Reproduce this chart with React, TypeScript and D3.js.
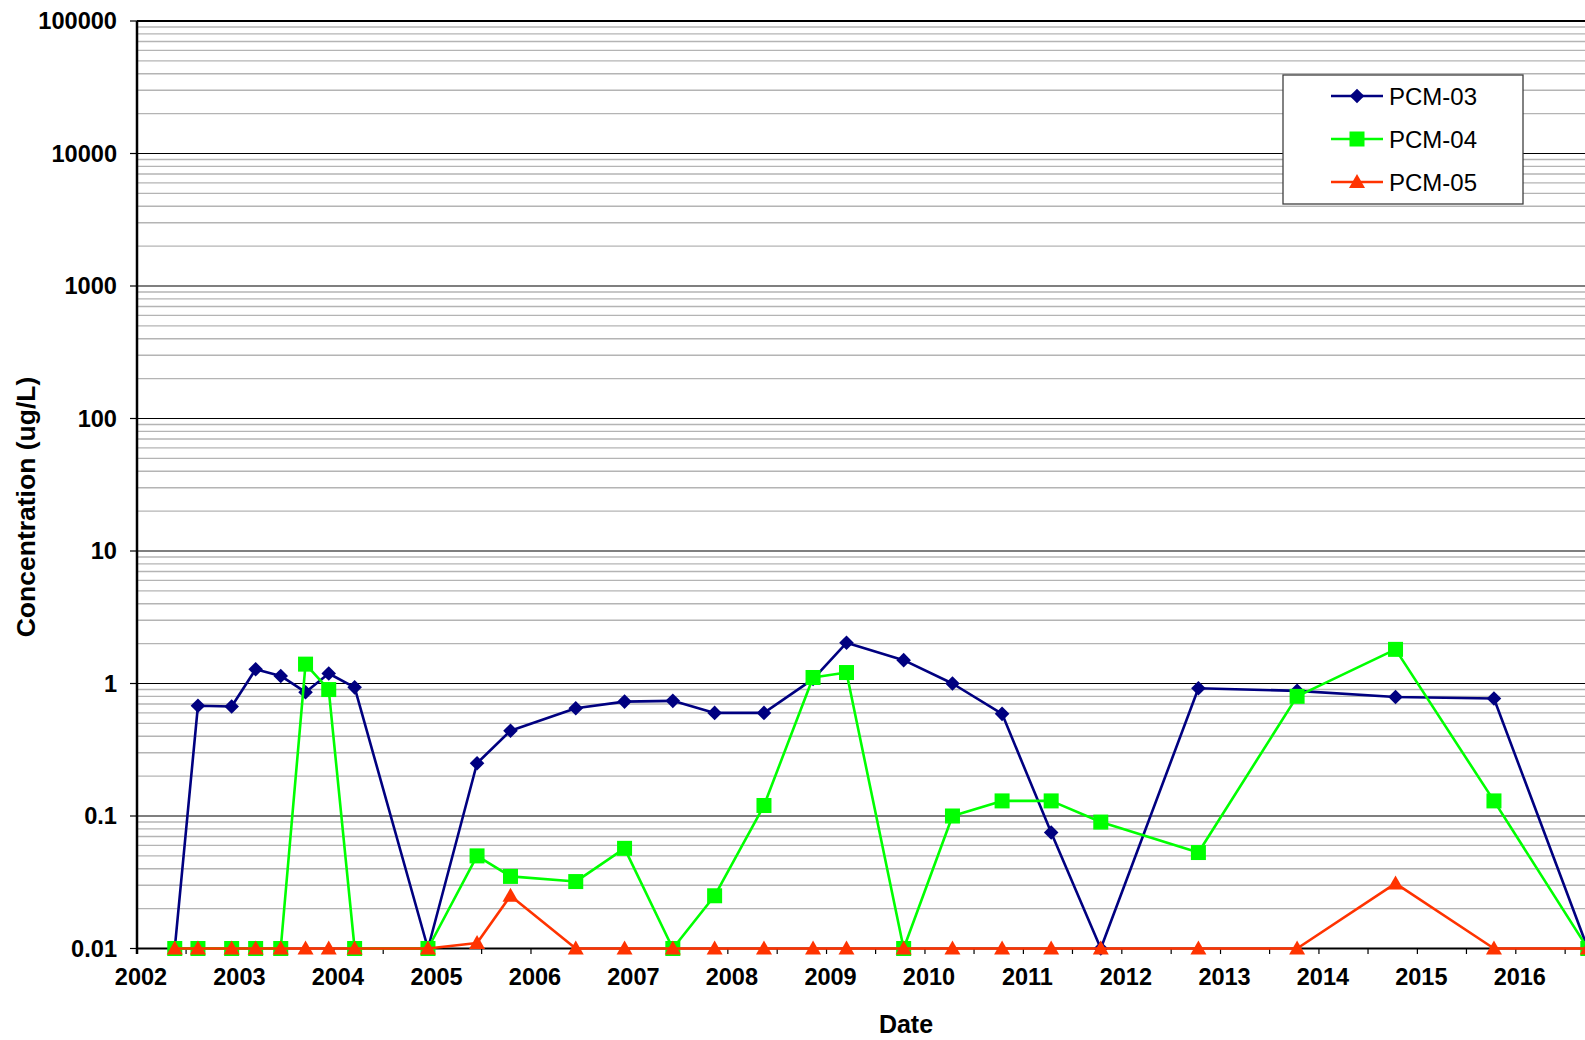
import React from "react";
import * as d3 from "d3";

const dates = [
  "2002-05-21", "2002-08-15", "2002-12-18", "2003-03-17", "2003-06-18", "2003-09-18", "2003-12-13",
  "2004-03-18", "2004-12-15", "2005-06-15", "2005-10-17", "2006-06-16", "2006-12-14", "2007-06-11",
  "2007-11-13", "2008-05-14", "2008-11-12", "2009-03-16", "2009-10-14", "2010-04-13", "2010-10-14",
  "2011-04-14", "2011-10-15", "2012-10-11", "2013-10-12", "2014-10-12", "2015-10-12", "2016-09-24",
];
const pcm03 = [
  0.01, 0.68, 0.67, 1.28, 1.14, 0.86, 1.19, 0.935, 0.01, 0.25, 0.44, 0.65, 0.73, 0.74,
  0.6, 0.6, 1.08, 2.03, 1.5, 1.0, 0.59, 0.075, 0.01, 0.92, 0.88, 0.79, 0.77, 0.01,
];
const pcm04 = [
  0.01, 0.01, 0.01, 0.01, 0.01, 1.4, 0.9, 0.01, 0.01, 0.05, 0.035, 0.032, 0.057, 0.01,
  0.025, 0.12, 1.11, 1.21, 0.01, 0.1, 0.13, 0.13, 0.09, 0.053, 0.8, 1.81, 0.13, 0.01,
];
const pcm05 = [
  0.01, 0.01, 0.01, 0.01, 0.01, 0.01, 0.01, 0.01, 0.01, 0.011, 0.025, 0.01, 0.01, 0.01,
  0.01, 0.01, 0.01, 0.01, 0.01, 0.01, 0.01, 0.01, 0.01, 0.01, 0.01, 0.031, 0.01, 0.01,
];
const seriesNames = ["PCM-03", "PCM-04", "PCM-05"];
const seriesColors = ["#000080", "#00FF00", "#FF3300"];
const seriesShapes = ["diamond", "square", "triangle"];
const yTickValues = [0.01, 0.1, 1, 10, 100, 1000, 10000, 100000];
const yTickLabels = ["0.01", "0.1", "1", "10", "100", "1000", "10000", "100000"];
const yearLabels = ["2002", "2003", "2004", "2005", "2006", "2007", "2008", "2009", "2010", "2011", "2012", "2013", "2014", "2015", "2016"];

const W = 1585;
const H = 1040;
const left = 137;
const top = 21;
const bottom = 948.5;
const FONT = "'Liberation Sans', Arial, Helvetica, sans-serif";

const parse = d3.timeParse("%Y-%m-%d");

function Marker({ shape, x, y, color }: { shape: string; x: number; y: number; color: string }) {
  if (shape === "diamond") {
    const r = 7.3;
    return <path d={`M${x},${y - r}L${x + r},${y}L${x},${y + r}L${x - r},${y}Z`} fill={color} />;
  }
  if (shape === "square") {
    const r = 7.5;
    return <rect x={x - r} y={y - r} width={2 * r} height={2 * r} fill={color} />;
  }
  const w = 8;
  return <path d={`M${x},${y - 8}L${x + w},${y + 6}L${x - w},${y + 6}Z`} fill={color} />;
}

export default function App() {
  const x = d3
    .scaleTime()
    .domain([new Date(2002, 0, 1), new Date(2017, 0, 1)])
    .range([left, left + 15 * 98.5]);
  const y = d3.scaleLog().domain([0.01, 100000]).range([bottom, top]);

  const parsed = dates.map((d) => parse(d) as Date);
  const seriesValues = [pcm03, pcm04, pcm05];

  const minor: number[] = [];
  for (let e = -2; e < 5; e++) {
    for (let m = 2; m <= 9; m++) minor.push(m * Math.pow(10, e));
  }

  const halfYears: Date[] = [];
  for (let yr = 2002; yr <= 2017; yr++) {
    halfYears.push(new Date(yr, 0, 1));
    if (yr < 2017) halfYears.push(new Date(yr, 6, 2));
  }

  const line = d3
    .line<[Date, number]>()
    .x((d) => x(d[0]))
    .y((d) => y(d[1]));

  const legendX = 1283;
  const legendY = 75;
  const legendRows = [96, 139, 182];

  return (
    <div style={{ position: "fixed", left: 0, top: 0, width: W, height: H, background: "#fff" }}>
      <svg width={W} height={H} style={{ display: "block" }}>
        <rect x={0} y={0} width={W} height={H} fill="#fff" />
        {minor.map((v, i) => (
          <line key={"mg" + i} x1={left} x2={W} y1={y(v)} y2={y(v)} stroke="#b4b4b4" strokeWidth={1.4} />
        ))}
        {yTickValues.map((v, i) => (
          <line key={"Mg" + i} x1={left} x2={W} y1={y(v)} y2={y(v)} stroke="#000" strokeWidth={1.2} />
        ))}
        <line x1={left} x2={W} y1={top} y2={top} stroke="#000" strokeWidth={2.2} />
        <line x1={left} x2={W} y1={bottom} y2={bottom} stroke="#000" strokeWidth={2.2} />
        <line x1={left} x2={left} y1={top} y2={954} stroke="#000" strokeWidth={2.5} />
        {yTickValues.map((v, i) => (
          <line key={"yt" + i} x1={130} x2={left} y1={y(v)} y2={y(v)} stroke="#000" strokeWidth={1.2} />
        ))}
        {halfYears.map((d, i) => (
          <line key={"xt" + i} x1={x(d)} x2={x(d)} y1={bottom} y2={954} stroke="#000" strokeWidth={1.2} />
        ))}
        {yTickValues.map((v, i) => (
          <text
            key={"yl" + i}
            x={117}
            y={y(v) + 8}
            textAnchor="end"
            fontFamily={FONT}
            fontWeight="bold"
            fontSize={23.6}
            fill="#000"
          >
            {yTickLabels[i]}
          </text>
        ))}
        {yearLabels.map((s, i) => (
          <text
            key={"xl" + i}
            x={x(new Date(+s, 0, 1)) + 4}
            y={985}
            textAnchor="middle"
            fontFamily={FONT}
            fontWeight="bold"
            fontSize={23.5}
            fill="#000"
          >
            {s}
          </text>
        ))}
        <text
          transform={`translate(35,507) rotate(-90)`}
          textAnchor="middle"
          fontFamily={FONT}
          fontWeight="bold"
          fontSize={26.5}
          fill="#000"
        >
          Concentration (ug/L)
        </text>
        <text x={906} y={1033} textAnchor="middle" fontFamily={FONT} fontWeight="bold" fontSize={25} fill="#000">
          Date
        </text>
        {seriesValues.map((vals, si) => {
          const pts = parsed.map((d, i) => [d, vals[i]] as [Date, number]);
          return (
            <g key={"s" + si}>
              <path d={line(pts) || ""} fill="none" stroke={seriesColors[si]} strokeWidth={2.6} strokeLinejoin="round" />
              {pts.map((p, i) => (
                <Marker key={i} shape={seriesShapes[si]} x={x(p[0])} y={y(p[1])} color={seriesColors[si]} />
              ))}
            </g>
          );
        })}
        <rect x={legendX} y={legendY} width={240} height={129} fill="#fff" stroke="#404040" strokeWidth={1.3} />
        {seriesNames.map((n, i) => (
          <g key={"lg" + i}>
            <line x1={1331} x2={1383} y1={legendRows[i]} y2={legendRows[i]} stroke={seriesColors[i]} strokeWidth={2.6} />
            <Marker shape={seriesShapes[i]} x={1357} y={legendRows[i]} color={seriesColors[i]} />
            <text x={1389} y={legendRows[i] + 8.5} fontFamily={FONT} fontSize={24} fill="#000">
              {n}
            </text>
          </g>
        ))}
      </svg>
    </div>
  );
}
